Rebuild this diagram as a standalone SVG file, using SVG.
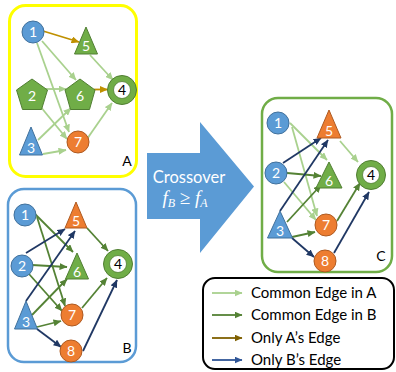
<svg xmlns="http://www.w3.org/2000/svg" width="396" height="372" viewBox="0 0 396 372">
<defs>
<style>
.lbl{font-family:Lato,"Open Sans","Liberation Sans",sans-serif;font-size:14px;fill:#fff;text-anchor:middle}
.lblk{font-family:Lato,"Open Sans","Liberation Sans",sans-serif;font-size:14px;fill:#000;text-anchor:middle}
.blue{fill:#5B9BD5;stroke:#41719C;stroke-width:1}
.green{fill:#70AD47;stroke:#507E32;stroke-width:1}
.orange{fill:#ED7D31;stroke:#AE5A21;stroke-width:1}
.ring{fill:#70AD47;stroke:#507E32;stroke-width:1}
.hole{fill:#fff;stroke:#507E32;stroke-width:0.8}
.e{fill:none;stroke-width:1.8}
.lg{stroke:#A9D18E;marker-end:url(#mLG)}
.dg{stroke:#548235;marker-end:url(#mDG)}
.br{stroke:#BF9000;marker-end:url(#mBR)}
.nv{stroke:#203864;marker-end:url(#mNV)}
.leg{font-family:Lato,"Open Sans","Liberation Sans",sans-serif;font-size:15px;fill:#000}
</style>
<marker id="mLG" markerUnits="userSpaceOnUse" markerWidth="8" markerHeight="7" refX="7.5" refY="3.5" orient="auto"><path d="M0,0 L8,3.5 L0,7 z" fill="#A9D18E"/></marker>
<marker id="mDG" markerUnits="userSpaceOnUse" markerWidth="8" markerHeight="7" refX="7.5" refY="3.5" orient="auto"><path d="M0,0 L8,3.5 L0,7 z" fill="#548235"/></marker>
<marker id="mBR" markerUnits="userSpaceOnUse" markerWidth="8" markerHeight="7" refX="7.5" refY="3.5" orient="auto"><path d="M0,0 L8,3.5 L0,7 z" fill="#BF9000"/></marker>
<marker id="mNV" markerUnits="userSpaceOnUse" markerWidth="8" markerHeight="7" refX="7.5" refY="3.5" orient="auto"><path d="M0,0 L8,3.5 L0,7 z" fill="#203864"/></marker>
<marker id="mBR2" markerUnits="userSpaceOnUse" markerWidth="8" markerHeight="7" refX="7.5" refY="3.5" orient="auto"><path d="M0,0 L8,3.5 L0,7 z" fill="#7F6000"/></marker>
<marker id="mNV2" markerUnits="userSpaceOnUse" markerWidth="8" markerHeight="7" refX="7.5" refY="3.5" orient="auto"><path d="M0,0 L8,3.5 L0,7 z" fill="#2F5597"/></marker>
</defs>
<rect width="396" height="372" fill="#fff"/>

<!-- Panels -->
<g id="panelA"><rect x="9.5" y="5.5" width="127" height="171" rx="16" fill="#fff" stroke="#FFFF00" stroke-width="3"/><text class="lblk" x="127" y="166">A</text></g>
<g id="panelB"><rect x="8" y="189" width="128" height="173" rx="16" fill="#fff" stroke="#5B9BD5" stroke-width="2.5"/><text class="lblk" x="127" y="353">B</text></g>
<g id="panelC"><rect x="262" y="98" width="130" height="174" rx="16" fill="#fff" stroke="#70AD47" stroke-width="2.5"/><text class="lblk" x="381" y="261">C</text></g>

<!-- Big arrow -->
<g id="crossover">
<path d="M147,153 L200,153 L200,122 L254,186.5 L200,253 L200,219 L147,219 Z" fill="#5B9BD5"/>
<text x="189" y="183" font-family="Lato,'Open Sans','Liberation Sans',sans-serif" font-size="16.5" fill="#fff" text-anchor="middle">Crossover</text>
<text x="185" y="204" font-family="'Liberation Serif',serif" font-style="italic" font-size="19" fill="#fff" text-anchor="middle">f<tspan font-size="12" dy="3">B</tspan><tspan dy="-3" font-style="normal"> ≥ </tspan>f<tspan font-size="12" dy="3">A</tspan></text>
</g>

<!-- Connectors -->
<g id="connectors" class="e">
<!-- A -->
<line class="lg" x1="42" y1="41" x2="76" y2="80"/>
<line class="lg" x1="37" y1="43" x2="69" y2="132"/>
<line class="lg" x1="46" y1="89" x2="66" y2="89"/>
<line class="lg" x1="40" y1="106" x2="67" y2="139"/>
<line class="lg" x1="38" y1="140" x2="71" y2="108"/>
<line class="lg" x1="43" y1="154" x2="66" y2="150"/>
<line class="lg" x1="90" y1="55" x2="113" y2="80"/>
<line class="lg" x1="87" y1="139" x2="112" y2="103"/>
<line class="br" x1="43" y1="31" x2="79" y2="42"/>
<line class="br" x1="94" y1="89.5" x2="107.5" y2="89.5"/>
<!-- B -->
<line class="dg" x1="35" y1="214" x2="73" y2="252"/>
<line class="dg" x1="37" y1="217" x2="65" y2="306"/>
<line class="dg" x1="32" y1="265" x2="67" y2="267"/>
<line class="dg" x1="29" y1="274" x2="62" y2="311"/>
<line class="dg" x1="32" y1="315" x2="67" y2="279"/>
<line class="dg" x1="37" y1="327" x2="61" y2="321"/>
<line class="dg" x1="87" y1="228" x2="108" y2="251"/>
<line class="dg" x1="82" y1="308" x2="107" y2="278"/>
<line class="nv" x1="26" y1="253" x2="65" y2="229"/>
<line class="nv" x1="26" y1="301" x2="75" y2="231"/>
<line class="nv" x1="37" y1="329" x2="61" y2="347"/>
<line class="nv" x1="83" y1="351" x2="117" y2="280"/>
<!-- C -->
<line class="lg" x1="290" y1="123" x2="327" y2="160"/>
<line class="lg" x1="292" y1="127" x2="317" y2="216"/>
<line class="lg" x1="284" y1="182" x2="316" y2="220"/>
<line class="lg" x1="340" y1="141" x2="358" y2="162"/>
<line class="dg" x1="287" y1="173" x2="321" y2="176"/>
<line class="dg" x1="287" y1="222" x2="321" y2="185"/>
<line class="dg" x1="292" y1="237" x2="315" y2="232"/>
<line class="dg" x1="337" y1="221" x2="360" y2="183"/>
<line class="nv" x1="283" y1="163" x2="321" y2="138"/>
<line class="nv" x1="280" y1="211" x2="328" y2="140"/>
<line class="nv" x1="292" y1="238" x2="314" y2="257"/>
<line class="nv" x1="334" y1="253" x2="369" y2="192"/>
</g>

<!-- Nodes A -->
<g id="A1"><circle class="blue" cx="33" cy="32" r="11"/><text class="lbl" x="33" y="37">1</text></g>
<g id="A5"><path class="green" d="M86,27 L97.5,54 L74.5,54 Z"/><text class="lbl" x="86" y="51">5</text></g>
<g id="A2"><path class="green" d="M32,79 L47.5,90 L41.5,109.5 L22.5,109.5 L16.5,90 Z"/><text class="lbl" x="32" y="101">2</text></g>
<g id="A6"><path class="green" d="M80,79 L95,90 L89.5,109.5 L70.5,109.5 L65,90 Z"/><text class="lbl" x="80" y="101">6</text></g>
<g id="A4"><circle class="ring" cx="122" cy="90" r="14.5"/><circle class="hole" cx="122" cy="90" r="8.5"/><text class="lblk" x="122" y="95">4</text></g>
<g id="A3"><path class="blue" d="M31,127 L42.5,155 L19.5,155 Z"/><text class="lbl" x="31" y="153">3</text></g>
<g id="A7"><circle class="orange" cx="78" cy="142" r="11"/><text class="lbl" x="78" y="147">7</text></g>

<!-- Nodes B -->
<g id="B1"><circle class="blue" cx="25" cy="215" r="11"/><text class="lbl" x="25" y="220">1</text></g>
<g id="B5"><path class="orange" d="M76,202 L87,228 L65,228 Z"/><text class="lbl" x="76" y="226">5</text></g>
<g id="B2"><circle class="blue" cx="22" cy="266" r="11"/><text class="lbl" x="22" y="271">2</text></g>
<g id="B6"><path class="green" d="M77,253 L88.5,279 L65.5,279 Z"/><text class="lbl" x="77" y="277">6</text></g>
<g id="B4"><circle class="ring" cx="118" cy="264" r="14.5"/><circle class="hole" cx="118" cy="264" r="8.5"/><text class="lblk" x="118" y="269">4</text></g>
<g id="B3"><path class="blue" d="M26,301 L37.5,329 L14.5,329 Z"/><text class="lbl" x="26" y="327">3</text></g>
<g id="B7"><circle class="orange" cx="72" cy="315" r="11"/><text class="lbl" x="72" y="320">7</text></g>
<g id="B8"><circle class="orange" cx="71" cy="351" r="11"/><text class="lbl" x="71" y="356">8</text></g>

<!-- Nodes C -->
<g id="C1"><circle class="blue" cx="278" cy="123" r="11"/><text class="lbl" x="278" y="128">1</text></g>
<g id="C5"><path class="orange" d="M329,110 L341,138 L317,138 Z"/><text class="lbl" x="329" y="136">5</text></g>
<g id="C2"><circle class="blue" cx="276" cy="173" r="11"/><text class="lbl" x="276" y="178">2</text></g>
<g id="C6"><path class="green" d="M329,162 L342,188 L316,188 Z"/><text class="lbl" x="329" y="186">6</text></g>
<g id="C4"><circle class="ring" cx="371" cy="175" r="14.5"/><circle class="hole" cx="371" cy="175" r="8.5"/><text class="lblk" x="371" y="180">4</text></g>
<g id="C3"><path class="blue" d="M280,211 L292.5,238 L267.5,238 Z"/><text class="lbl" x="280" y="236">3</text></g>
<g id="C7"><circle class="orange" cx="326" cy="225" r="11"/><text class="lbl" x="326" y="230">7</text></g>
<g id="C8"><circle class="orange" cx="325" cy="261" r="11"/><text class="lbl" x="325" y="266">8</text></g>

<!-- Legend -->
<g id="legend">
<rect x="203" y="278" width="191" height="91" rx="12" fill="#fff" stroke="#000" stroke-width="2"/>
<line x1="212" y1="293" x2="242" y2="293" stroke="#A9D18E" stroke-width="1.8" marker-end="url(#mLG)"/>
<line x1="212" y1="315" x2="242" y2="315" stroke="#548235" stroke-width="1.8" marker-end="url(#mDG)"/>
<line x1="212" y1="338" x2="242" y2="338" stroke="#7F6000" stroke-width="1.8" marker-end="url(#mBR2)"/>
<line x1="212" y1="360" x2="242" y2="360" stroke="#2F5597" stroke-width="1.8" marker-end="url(#mNV2)"/>
<text class="leg" x="251" y="298">Common Edge in A</text>
<text class="leg" x="251" y="320">Common Edge in B</text>
<text class="leg" x="251" y="343">Only A’s Edge</text>
<text class="leg" x="251" y="365">Only B’s Edge</text>
</g>
</svg>
